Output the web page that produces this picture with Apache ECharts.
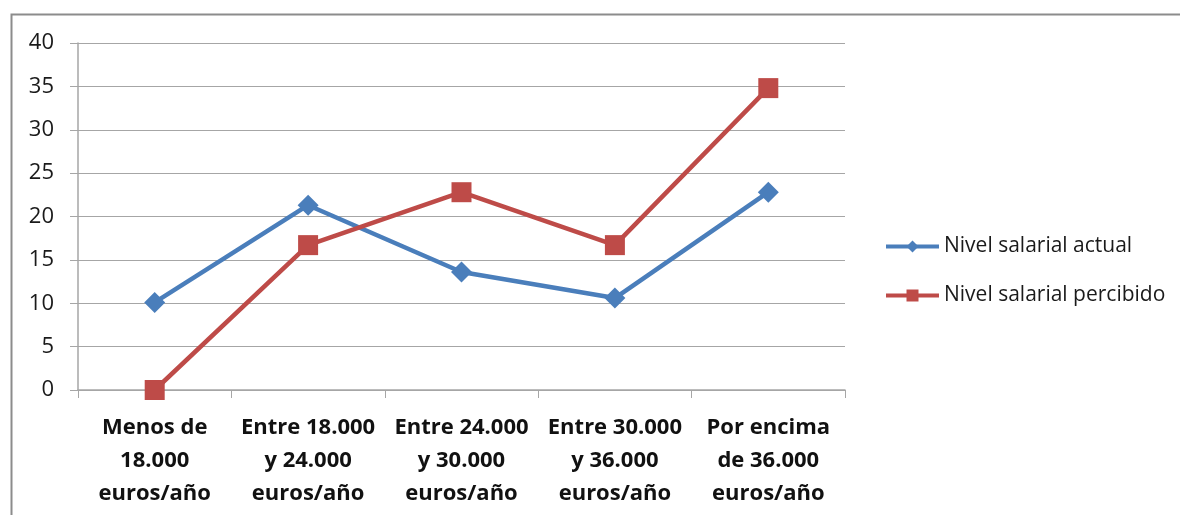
<!DOCTYPE html>
<html>
<head>
<meta charset="utf-8">
<script src="https://cdn.jsdelivr.net/npm/echarts@6/dist/echarts.min.js"></script>
<style>
  html, body { margin: 0; padding: 0; background: #fff; }
  #chart { width: 1180px; height: 515px; }
</style>
</head>
<body>
<div id="chart"></div>
<script>
var categories = [
  'Menos de\n18.000\neuros/año',
  'Entre 18.000\ny 24.000\neuros/año',
  'Entre 24.000\ny 30.000\neuros/año',
  'Entre 30.000\ny 36.000\neuros/año',
  'Por encima\nde 36.000\neuros/año'
];
var actual = [10.1, 21.3, 13.6, 10.6, 22.8];
var percibido = [0, 16.7, 22.8, 16.7, 34.8];
var seriesNames = ['Nivel salarial actual', 'Nivel salarial percibido'];

var myChart = echarts.init(document.getElementById('chart'));
var font = '"Open Sans", Lato, sans-serif';

var option = {
  animation: false,
  textStyle: { fontFamily: font },
  graphic: [{
    type: 'rect',
    left: 9, top: 12,
    shape: { width: 1200, height: 600 },
    style: { fill: 'none', stroke: '#8c8c8c', lineWidth: 2 },
    silent: true
  }],
  grid: { left: 78, right: 335, top: 43, bottom: 125 },
  legend: {
    orient: 'vertical',
    left: 884,
    top: 236,
    padding: 0,
    itemWidth: 53,
    itemHeight: 15,
    itemGap: 28,
    itemTextGap: 4,
    data: seriesNames,
    lineStyle: { width: 4 },
    textStyle: { fontSize: 21, lineHeight: 20, color: '#1a1a1a', fontFamily: font }
  },
  xAxis: {
    type: 'category',
    data: categories,
    boundaryGap: true,
    axisLine: { lineStyle: { color: '#a6a6a6', width: 1.5 } },
    axisTick: { show: true, length: 8, lineStyle: { color: '#a6a6a6' } },
    axisLabel: {
      interval: 0,
      margin: 21,
      fontSize: 22,
      fontWeight: 'bold',
      lineHeight: 33,
      color: '#111',
      fontFamily: font
    }
  },
  yAxis: {
    type: 'value',
    min: 0,
    max: 40,
    interval: 5,
    axisLine: { show: true, lineStyle: { color: '#a6a6a6', width: 1.5 } },
    axisTick: { show: true, length: 8, lineStyle: { color: '#a6a6a6' } },
    splitLine: { lineStyle: { color: '#a6a6a6', width: 1.2 } },
    axisLabel: { fontSize: 22, margin: 24, color: '#1a1a1a', fontFamily: font }
  },
  series: [{
    name: seriesNames[0],
    type: 'line',
    data: actual,
    symbol: 'diamond',
    symbolSize: 21,
    lineStyle: { color: '#4a7ebb', width: 4.5 },
    itemStyle: { color: '#4a7ebb' }
  }, {
    name: seriesNames[1],
    type: 'line',
    data: percibido,
    symbol: 'rect',
    symbolSize: 20,
    lineStyle: { color: '#be4b48', width: 4.5 },
    itemStyle: { color: '#be4b48' }
  }]
};
myChart.setOption(option);
</script>
</body>
</html>
